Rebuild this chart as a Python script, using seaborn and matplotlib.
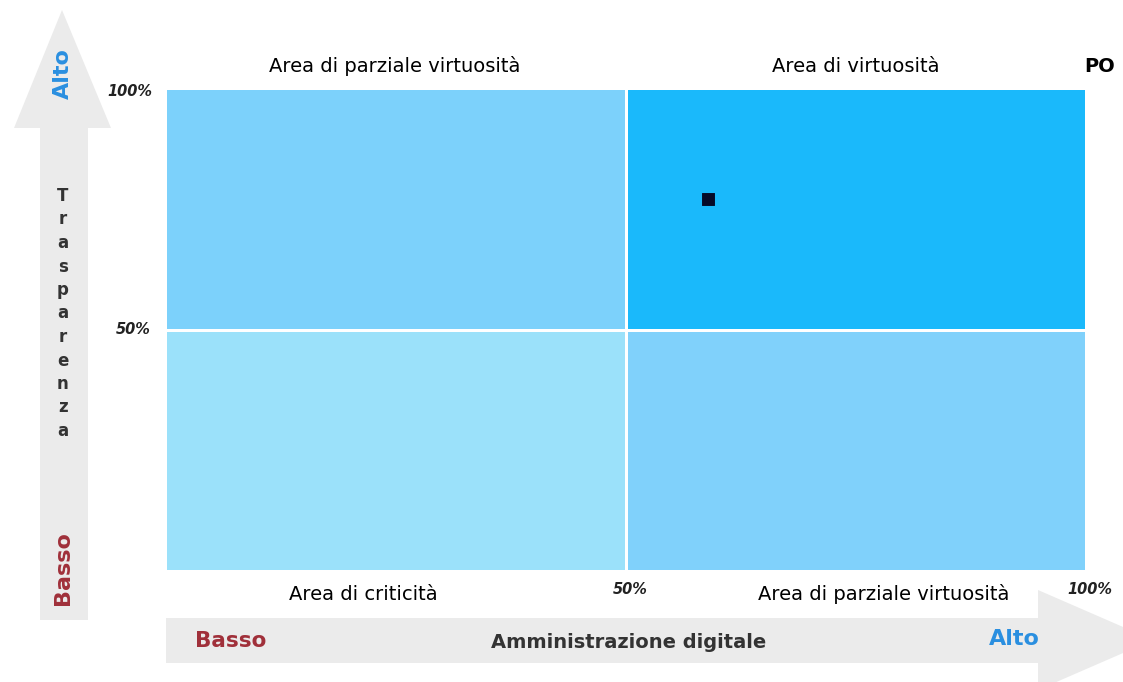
import numpy as np
import pandas as pd
import seaborn as sns
import matplotlib.pyplot as plt
from matplotlib.colors import ListedColormap
from matplotlib.patches import Polygon

# quadrant data (rows top -> bottom, cols left -> right)
quadrant_level = [[1, 3], [0, 2]]
quadrant_colors = ["#9be1fa", "#7cd1fb", "#80d1fb", "#1ab9fb"]

# the single entity plotted
entity = ["PO"]
digitale = [59]      # Amministrazione digitale (%)
trasparenza = [77]   # Trasparenza (%)

top_labels = ["Area di parziale virtuosità", "Area di virtuosità"]
bottom_labels = ["Area di criticità", "Area di parziale virtuosità"]

W, H = 1123, 682
fig = plt.figure(figsize=(W / 100, H / 100), dpi=100)

# background axes in pixel coordinates for arrows and labels
bg = fig.add_axes([0, 0, 1, 1])
bg.set_xlim(0, W)
bg.set_ylim(H, 0)
bg.axis("off")

arrow_col = "#ebebeb"
# vertical arrow (Trasparenza)
bg.add_patch(Polygon([(40, 620), (40, 128), (14, 128), (62, 10), (111, 128),
                      (88, 128), (88, 620)], closed=True, color=arrow_col, lw=0))
# horizontal arrow (Amministrazione digitale)
bg.add_patch(Polygon([(166, 618), (1038, 618), (1038, 590), (1153, 640),
                      (1038, 690), (1038, 663), (166, 663)], closed=True,
                     color=arrow_col, lw=0))

blue_txt = "#2a8fe0"
red_txt = "#a0303a"
bg.text(63, 74, "Alto", rotation=90, color=blue_txt, fontsize=16, fontweight="bold",
        ha="center", va="center")
bg.text(63, 568, "Basso", rotation=90, color=red_txt, fontsize=16, fontweight="bold",
        ha="center", va="center")
for i, ch in enumerate("Trasparenza"):
    bg.text(63, 196 + i * 23.5, ch, color="#333333", fontsize=12, fontweight="bold",
            ha="center", va="center")
bg.text(231, 641, "Basso", color=red_txt, fontsize=15.5, fontweight="bold", ha="center", va="center")
bg.text(629, 642, "Amministrazione digitale", color="#333333", fontsize=14,
        fontweight="bold", ha="center", va="center")
bg.text(1014, 639, "Alto", color=blue_txt, fontsize=16, fontweight="bold", ha="center", va="center")

# tick-like percentage labels
pct = dict(fontsize=10.5, fontstyle="italic", fontweight="bold", color="#222222",
           ha="center", va="center")
bg.text(130, 92, "100%", **pct)
bg.text(133, 330, "50%", **pct)
bg.text(630, 590, "50%", **pct)
bg.text(1090, 590, "100%", **pct)

# area labels
bg.text(395, 66, top_labels[0], fontsize=14, ha="center", va="center")
bg.text(856, 66, top_labels[1], fontsize=14, ha="center", va="center")
bg.text(363, 594, bottom_labels[0], fontsize=14, ha="center", va="center")
bg.text(884, 594, bottom_labels[1], fontsize=14, ha="center", va="center")
bg.text(1100, 66, entity[0], fontsize=14, fontweight="bold", ha="center", va="center")

# quadrant heatmap
x0, x1, y0, y1 = 165, 1086, 88, 571
rect = [x0 / W, 1 - y1 / H, (x1 - x0) / W, (y1 - y0) / H]
hm = fig.add_axes(rect)
sns.heatmap(pd.DataFrame(quadrant_level), ax=hm, cmap=ListedColormap(quadrant_colors),
            vmin=-0.5, vmax=3.5, cbar=False, linewidths=1, linecolor="white",
            xticklabels=False, yticklabels=False)

# point overlay
ov = fig.add_axes(rect)
ov.patch.set_alpha(0)
df = pd.DataFrame({"entity": entity, "digitale": digitale, "trasparenza": trasparenza})
sns.scatterplot(data=df, x="digitale", y="trasparenza", ax=ov, marker="s", s=70,
                color="#050a28", edgecolor="#050a28", legend=False)
ov.set_xlim(0, 100)
ov.set_ylim(0, 100)
ov.axis("off")

fig.savefig("out.png", dpi=100)
